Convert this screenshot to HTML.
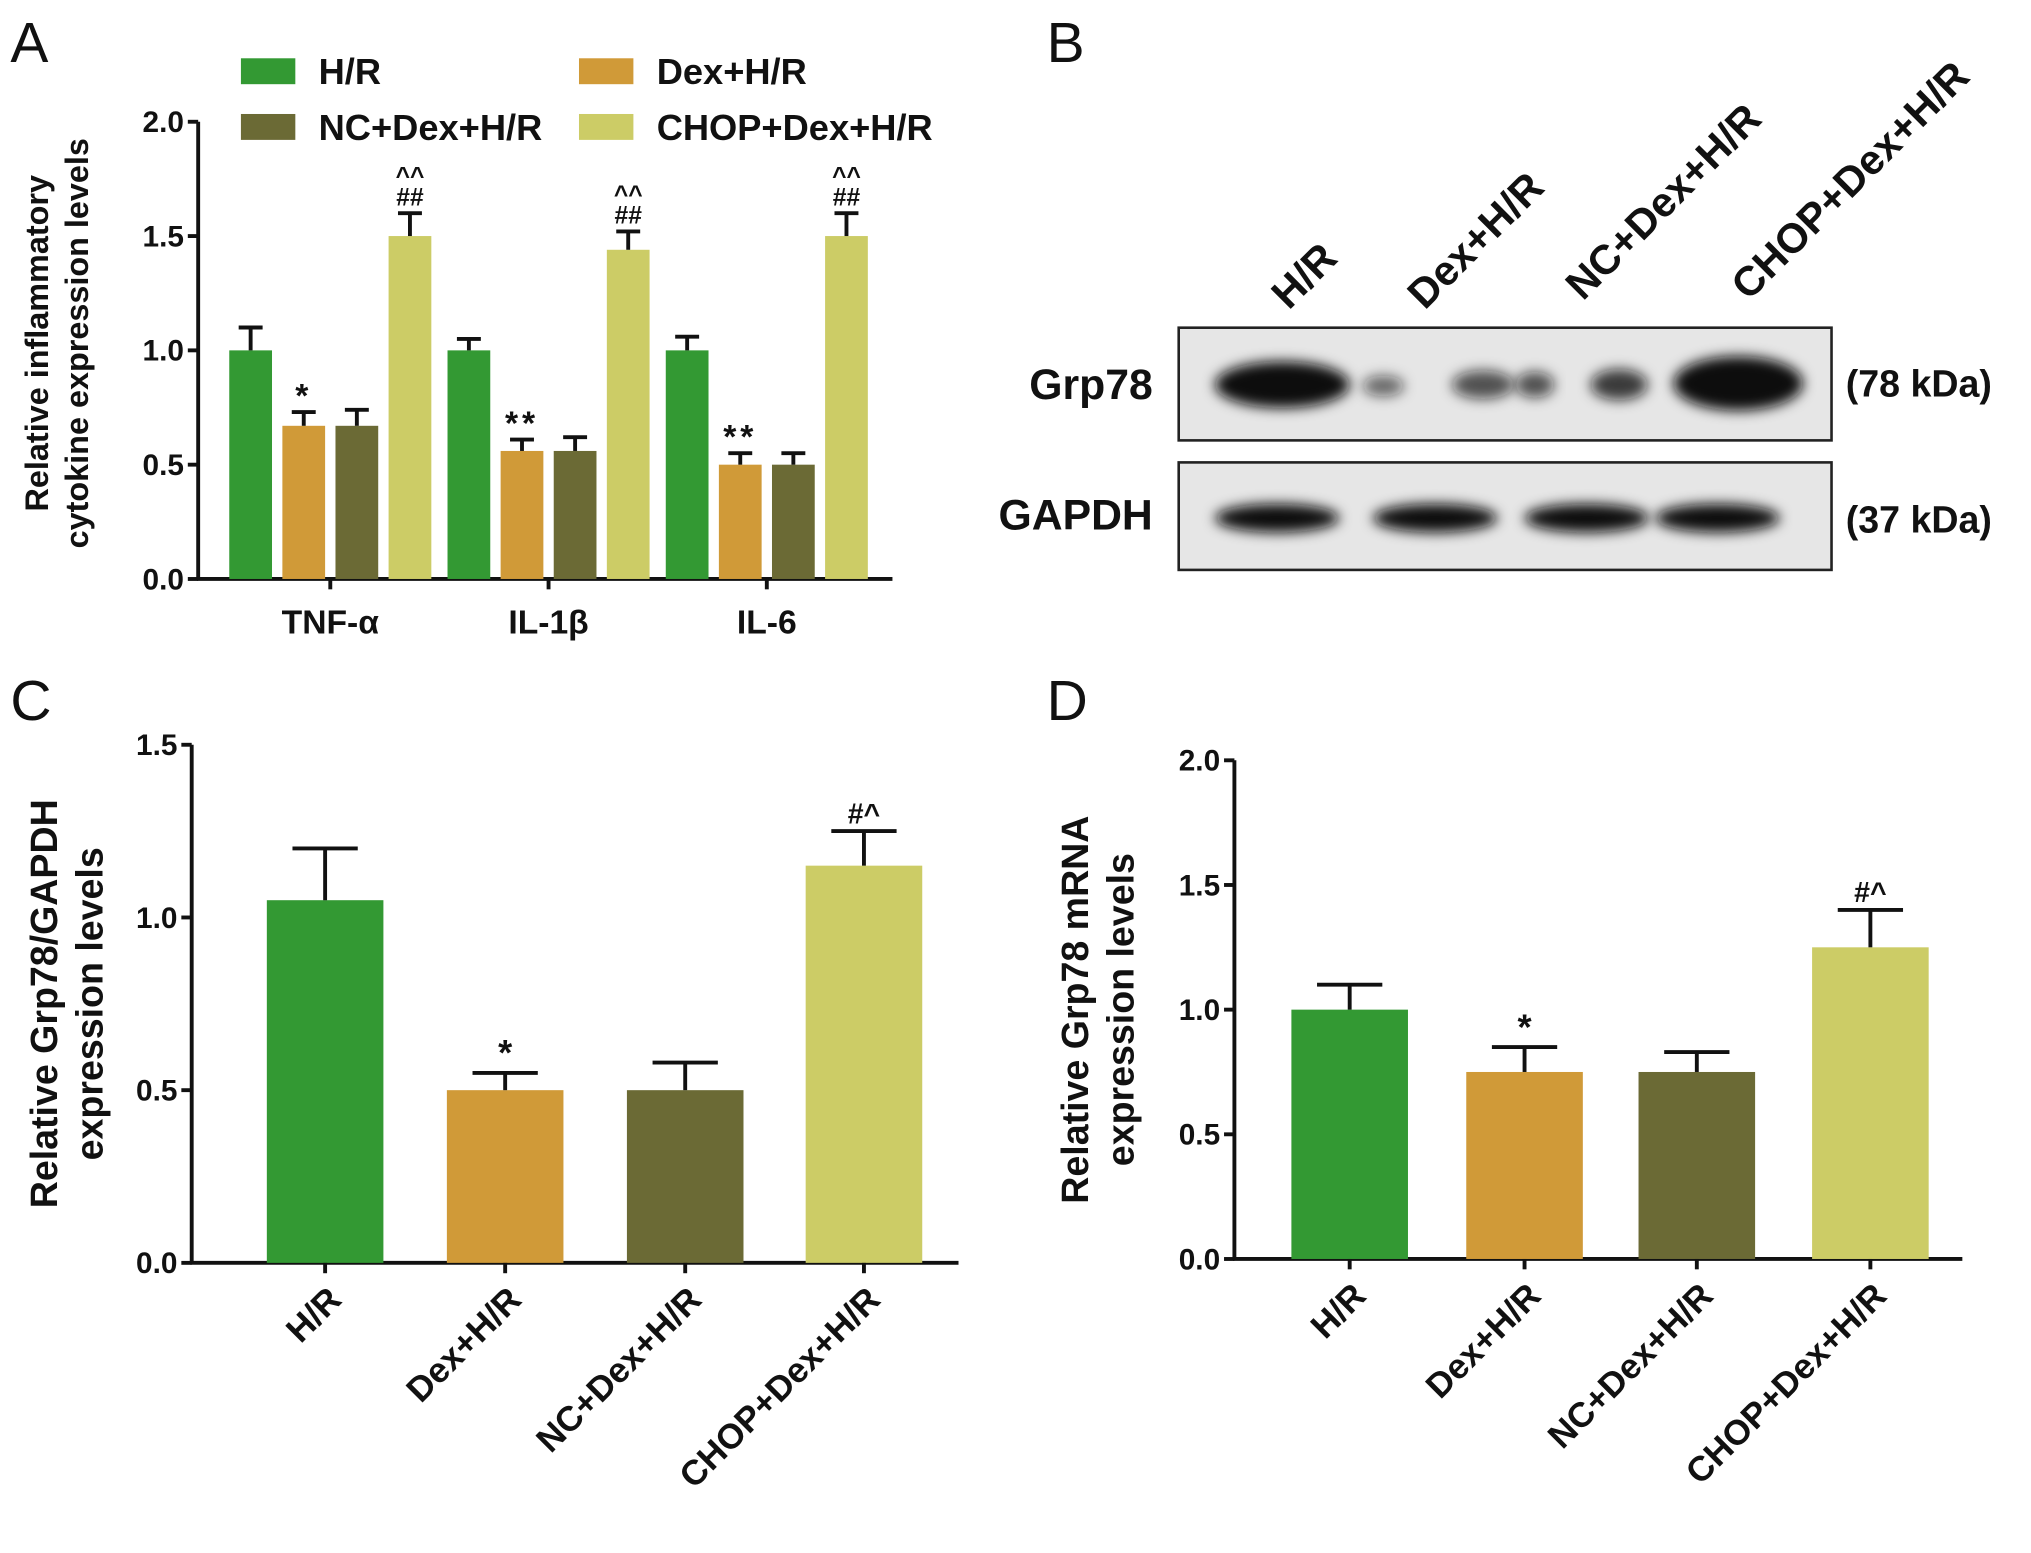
<!DOCTYPE html>
<html><head><meta charset="utf-8"><style>
html,body{margin:0;padding:0;background:#fff}
svg{display:block}
text{font-family:"Liberation Sans Narrow","Liberation Sans",Arial,sans-serif;font-weight:bold;fill:#111}
</style></head><body>
<svg id="fig" width="2031" height="1553" viewBox="0 0 1568 1199" preserveAspectRatio="none">
<defs>
<filter id="blur" x="-30%" y="-80%" width="160%" height="260%"><feGaussianBlur stdDeviation="5"/></filter>
</defs>
<text x="8" y="48" font-size="44" style="font-weight:normal;font-family:'Liberation Sans',sans-serif">A</text>
<text x="808" y="48" font-size="44" style="font-weight:normal;font-family:'Liberation Sans',sans-serif">B</text>
<text x="8" y="556" font-size="44" style="font-weight:normal;font-family:'Liberation Sans',sans-serif">C</text>
<text x="808" y="556" font-size="44" style="font-weight:normal;font-family:'Liberation Sans',sans-serif">D</text>
<g id="gA"></g>
<g id="gB"></g>
<g id="gC"></g>
<g id="gD"></g>
</svg>
<script>
const NS="http://www.w3.org/2000/svg";
const colors=["#339933","#d09a38","#6b6a35","#cccc66"];
const groupsA=["TNF-α","IL-1β","IL-6"];
const seriesNames=["H/R","Dex+H/R","NC+Dex+H/R","CHOP+Dex+H/R"];
const valsHR=[1.0,1.0,1.0];
const valsDex=[0.67,0.56,0.5];
const valsNC=[0.67,0.56,0.5];
const valsCHOP=[1.5,1.44,1.5];
const errHR=[0.1,0.05,0.06];
const errDex=[0.06,0.05,0.05];
const errNC=[0.07,0.06,0.05];
const errCHOP=[0.1,0.08,0.1];
const sigA=[["","*","","##|^^"],["","**","","##|^^"],["","**","","##|^^"]];
const ticksA=[0,0.5,1.0,1.5,2.0];
const catsC=["H/R","Dex+H/R","NC+Dex+H/R","CHOP+Dex+H/R"];
const valsC=[1.05,0.5,0.5,1.15];
const errC=[0.15,0.05,0.08,0.1];
const sigC=["","*","","#^"];
const ticksC=[0,0.5,1.0,1.5];
const valsD=[1.0,0.75,0.75,1.25];
const errD=[0.1,0.1,0.08,0.15];
const sigD=["","*","","#^"];
const ticksD=[0,0.5,1.0,1.5,2.0];

function el(tag,attrs,parent,txt){const e=document.createElementNS(NS,tag);for(const k in attrs)e.setAttribute(k,attrs[k]);if(txt!==undefined)e.textContent=txt;parent.appendChild(e);return e;}

function axisY(g,x0,y0,yTop,max,ticks,xEnd){
  const sc=v=>y0-(v/max)*(y0-yTop);
  const ax=el("line",{x1:x0,y1:y0+1,x2:x0,y2:yTop,stroke:"#111","stroke-width":3},g);
  
  
  const bx=el("line",{x1:x0-1,y1:y0,x2:xEnd,y2:y0,stroke:"#111","stroke-width":3},g);
  
  
  ticks.forEach(t=>{
    el("line",{x1:x0-8,y1:sc(t),x2:x0,y2:sc(t),stroke:"#111","stroke-width":3},g);
    const tl=el("text",{x:x0-11,y:sc(t)+8,"font-size":23,"text-anchor":"end"},g,t.toFixed(1));
    
    
  });
  return sc;
}
function bar(g,cx,w,v,e,sc,y0,color,name){
  const r=el("rect",{x:cx-w/2,y:sc(v),width:w,height:y0-sc(v),fill:color},g);
  
  
  const ey=sc(v+e);
  el("line",{x1:cx,y1:sc(v),x2:cx,y2:ey,stroke:"#111","stroke-width":3},g);
  el("line",{x1:cx-w*0.28,y1:ey,x2:cx+w*0.28,y2:ey,stroke:"#111","stroke-width":3},g);
  return ey;
}

// Panel A
(function(){
  const g=document.getElementById("gA");
  const x0=153,y0=447,yTop=94;
  const sc=axisY(g,x0,y0,yTop,2,ticksA,689);
  const vals=[valsHR,valsDex,valsNC,valsCHOP],errs=[errHR,errDex,errNC,errCHOP];
  const offs=[-61.5,-20.5,20.5,61.5];
  groupsA.forEach((gn,i)=>{
    const c=255+i*168.5;
    el("line",{x1:c,y1:y0,x2:c,y2:y0+8,stroke:"#111","stroke-width":3},g);
    const t=el("text",{x:c,y:y0+42,"font-size":26,"text-anchor":"middle"},g,gn);
    
    
    for(let s=0;s<4;s++){
      const ey=bar(g,c+offs[s],33,vals[s][i],errs[s][i],sc,y0,colors[s],"bar-a");
      const sg=sigA[i][s];
      if(sg){
        const parts=sg.split("|");
        if(parts.length===1){el("text",{x:c+offs[s],y:ey-4,"font-size":26,"text-anchor":"middle","letter-spacing":"3"},g,parts[0]);}
        else{el("text",{x:c+offs[s],y:ey-6,"font-size":19,"text-anchor":"middle"},g,parts[0]);
             el("text",{x:c+offs[s],y:ey-22,"font-size":19,"text-anchor":"middle"},g,parts[1]);}
      }
    }
  });
  const yt=el("text",{transform:"translate(37,265) rotate(-90)","font-size":25,"text-anchor":"middle"},g,"Relative inflammatory");
  
  
  el("text",{transform:"translate(68,265) rotate(-90)","font-size":25,"text-anchor":"middle"},g,"cytokine expression levels");
  const lp=[[186,45],[447,45],[186,88],[447,88]];
  seriesNames.forEach((n,i)=>{
    const r=el("rect",{x:lp[i][0],y:lp[i][1],width:42,height:20,fill:colors[i]},g);
    
    
    const t=el("text",{x:lp[i][0]+60,y:lp[i][1]+20,"font-size":28},g,n);
    
    
  });
})();

// Panel B
(function(){
  const g=document.getElementById("gB");
  el("rect",{x:910,y:253,width:504,height:87,fill:"#e6e6e6",stroke:"#222","stroke-width":2},g);
  el("rect",{x:910,y:357,width:504,height:83,fill:"#e6e6e6",stroke:"#222","stroke-width":2},g);
  const grp=[[990,297,52,18,1],[1068,298,16,8,0.6],[1145,297,24,11,0.7],[1185,297,15,10,0.7],[1250,297,22,12,0.8],[1342,296,50,21,1]];
  grp.forEach(b=>{const e=el("ellipse",{cx:b[0],cy:b[1],rx:b[2],ry:b[3],fill:"#111","fill-opacity":b[4],filter:"url(#blur)"},g);
    });
  [986,1108,1225,1326].forEach(x=>{const e=el("ellipse",{cx:x,cy:400,rx:48,ry:11,fill:"#111",filter:"url(#blur)"},g);
    });
  el("text",{x:890,y:308,"font-size":33,"text-anchor":"end"},g,"Grp78");
  el("text",{x:890,y:409,"font-size":33,"text-anchor":"end"},g,"GAPDH");
  el("text",{x:1425,y:306,"font-size":29},g,"(78 kDa)");
  el("text",{x:1425,y:411,"font-size":29},g,"(37 kDa)");
  const lx=[[995,240],[1100,240],[1222,233],[1350,233]];
  catsC.forEach((n,i)=>{el("text",{transform:`translate(${lx[i][0]},${lx[i][1]}) rotate(-45)`,"font-size":32},g,n);});
})();

function panel(gid,x0,y0,yTop,max,ticks,xEnd,centers,vals,errs,sig,t1,t2,tx){
  const g=document.getElementById(gid);
  const sc=axisY(g,x0,y0,yTop,max,ticks,xEnd);
  centers.forEach((c,i)=>{
    const ey=bar(g,c,90,vals[i],errs[i],sc,y0,colors[i],"bar");
    el("line",{x1:c,y1:y0,x2:c,y2:y0+8,stroke:"#111","stroke-width":3},g);
    if(sig[i])el("text",{x:c,y:ey-6,"font-size":sig[i]==="*"?28:22,"text-anchor":"middle"},g,sig[i]);
    const t=el("text",{transform:`translate(${c+14},${y0+30}) rotate(-45)`,"font-size":27,"text-anchor":"end"},g,catsC[i]);
    
    
  });
  const cy=(y0+yTop)/2;
  el("text",{transform:`translate(${tx},${cy}) rotate(-90)`,"font-size":29,"text-anchor":"middle"},g,t1);
  el("text",{transform:`translate(${tx+35},${cy}) rotate(-90)`,"font-size":29,"text-anchor":"middle"},g,t2);
}
panel("gC",148,975,575,1.5,ticksC,740,[251,390,529,667],valsC,errC,sigC,"Relative Grp78/GAPDH","expression levels",44);
panel("gD",953,972,587,2,ticksD,1515,[1042,1177,1310,1444],valsD,errD,sigD,"Relative Grp78 mRNA","expression levels",840);
</script>
</body></html>
